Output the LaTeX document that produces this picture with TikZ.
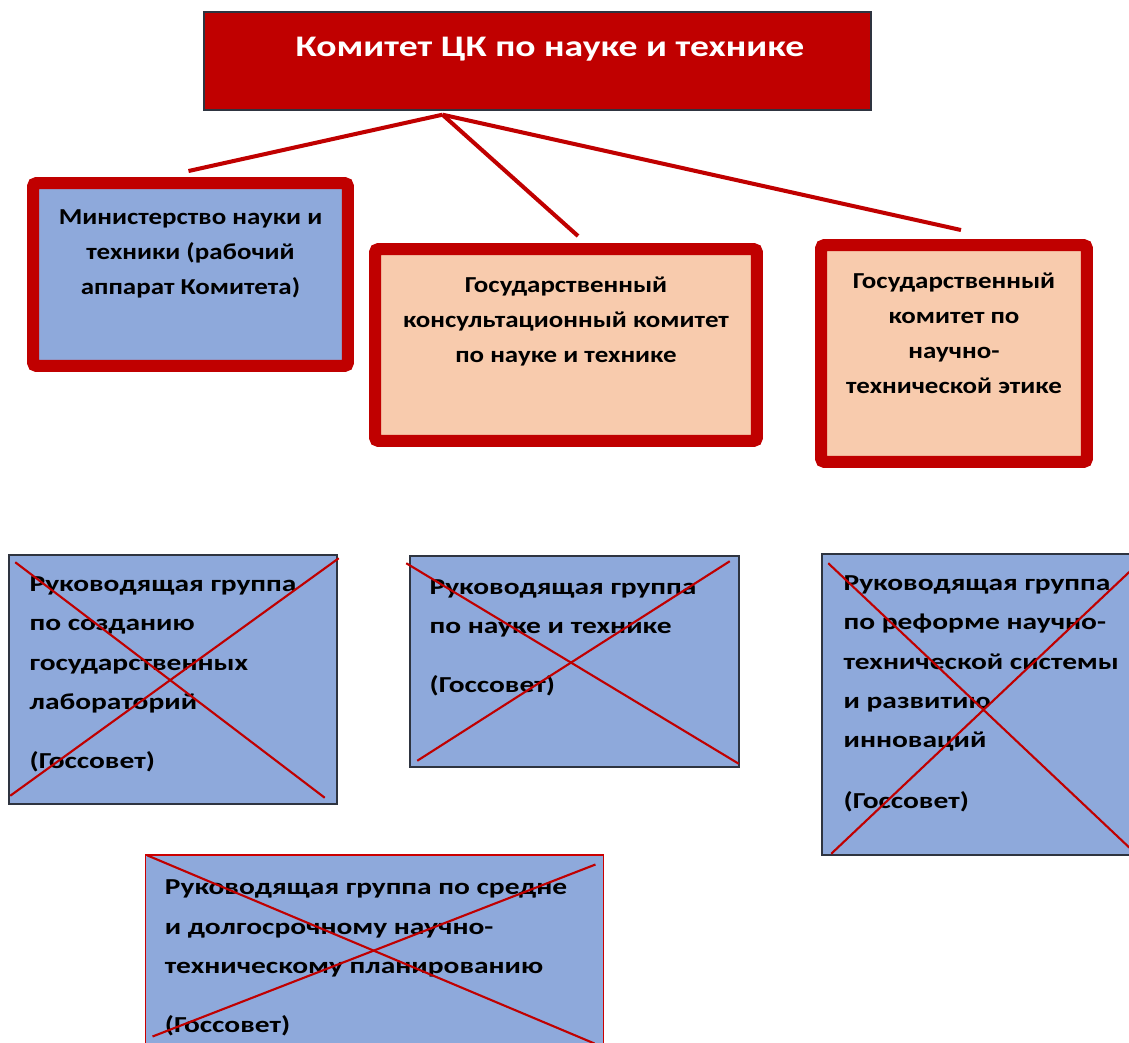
\documentclass[tikz,border=0pt]{standalone}
\usepackage{fontspec}
\setmainfont{Carlito}
\newfontfamily\titlefont[FakeStretch=1.26]{Carlito}
\newfontfamily\upfont[FakeStretch=1.18]{Carlito}
\newfontfamily\lowfont[FakeStretch=1.29]{Carlito}
\usepackage{tikz}
\usetikzlibrary{positioning, calc}

\definecolor{ckred}{HTML}{C00000}
\definecolor{boxblue}{HTML}{8EA9DB}
\definecolor{boxpeach}{HTML}{F8CBAD}
\definecolor{edgedark}{HTML}{2E3440}

\begin{document}
\begin{tikzpicture}[
			x=0.02cm, y=-0.02cm,
			topbox/.style={draw=edgedark, line width=0.8pt, fill=ckred, minimum width=13.34cm, minimum height=1.96cm},
			organ/.style={draw=ckred, line width=0.24cm, rounded corners=2pt},
			group/.style={draw=edgedark, line width=0.9pt, fill=boxblue},
			uptext/.style={inner sep=0pt, align=center, font=\upfont\bfseries\fontsize{13pt}{19.9pt}\selectfont},
			lowtext/.style={inner sep=0pt, align=left, font=\lowfont\bfseries\fontsize{13pt}{22.4pt}\selectfont},
			link/.style={draw=ckred, line width=2.3pt},
			cross/.style={draw=ckred, line width=1.2pt}
			]
			\useasboundingbox (0,0) rectangle (1129,1043);
			\clip (0,0) rectangle (1129,1043);
			
			% --- Komitet CK ---
			\node[topbox] (ck) at (537.5,61) {};
			\node[font=\titlefont\bfseries\fontsize{17pt}{20pt}\selectfont, text=white] (cktitle) at (550,49) {Комитет ЦК по науке и технике};
			\coordinate (hub) at ($(ck.south)+(-95,4)$); % tochka vetvleniya
			
			% --- Organy pri Komitete ---
			\node[organ, fill=boxblue, minimum width=6.3cm, minimum height=3.66cm] (ministry) at (190.5,274.5) {};
			\node[organ, fill=boxpeach, minimum width=7.64cm, minimum height=3.84cm] (consult) at (566,345) {};
			\node[organ, fill=boxpeach, minimum width=5.32cm, minimum height=4.34cm] (ethics) at (954,353.5) {};
			
			\node[uptext, below=0.64cm of ministry.north] (ministrytext) {Министерство науки и\\ техники (рабочий\\ аппарат Комитета)};
			\node[uptext, below=0.67cm of consult.north] (consulttext) {Государственный\\ консультационный комитет\\ по науке и технике};
			\node[uptext, below=0.68cm of ethics.north] (ethicstext) {Государственный\\ комитет по\\ научно-\\ технической этике};
			
			% --- Linii ot Komiteta ---
			\draw[link] (hub) -- ($(ministry.north)+(-2,-6)$);
			\draw[link] (hub) -- ($(consult.north)+(12,-7)$);
			\draw[link] (hub) -- ($(ethics.north)+(7,-9)$);
			
			% --- Rukovodyashchie gruppy (Gossovet) ---
			\node[group, minimum width=6.56cm, minimum height=4.98cm] (grplabs) at (173,679.5) {};
			\node[group, minimum width=6.58cm, minimum height=4.22cm] (grpscience) at (574.5,661.5) {};
			\node[group, minimum width=6.36cm, minimum height=6.02cm] (grpreform) at (981,704.5) {};
			\node[group, draw=red!80!black, line width=0.6pt, minimum width=9.18cm, minimum height=3.82cm] (grpplan) at (374.5,950.5) {};
			
			\node[lowtext, below right=0.44cm and 0.42cm of grplabs.north west] (grplabstext) {Руководящая группа\\ по созданию\\ государственных\\ лабораторий\\[11pt] (Госсовет)};
			\node[lowtext, below right=0.48cm and 0.4cm of grpscience.north west] (grpsciencetext) {Руководящая группа\\ по науке и технике\\[11pt] (Госсовет)};
			\node[lowtext, below right=0.44cm and 0.44cm of grpreform.north west] (grpreformtext) {Руководящая группа\\ по реформе научно-\\ технической системы\\ и развитию\\ инноваций\\[12pt] (Госсовет)};
			\node[lowtext, below right=0.5cm and 0.4cm of grpplan.north west] (grpplantext) {Руководящая группа по средне\\ и долгосрочному научно-\\ техническому планированию\\[11pt] (Госсовет)};
			
			% --- Perecherkivaniya ---
			\draw[cross] ($(grplabs.north west)+(7,8)$) -- ($(grplabs.south east)+(-13,-7)$);
			\draw[cross] ($(grplabs.north east)+(1,4)$) -- ($(grplabs.south west)+(2,-9)$);
			\draw[cross] ($(grpscience.north west)+(-3,8)$) -- ($(grpscience.south east)+(-1,-4)$);
			\draw[cross] ($(grpscience.north east)+(-10,6)$) -- ($(grpscience.south west)+(8,-7)$);
			\draw[cross] ($(grpreform.north west)+(7,10)$) -- ($(grpreform.south east)+(-7,-4)$);
			\draw[cross] ($(grpreform.north east)+(2,6)$) -- ($(grpreform.south west)+(10,-2)$);
			\draw[cross] ($(grpplan.north west)+(3,1)$) -- ($(grpplan.south east)+(-10,-3)$);
			\draw[cross] ($(grpplan.north east)+(-9,10)$) -- ($(grpplan.south west)+(8,-10)$);
			
		\end{tikzpicture}
\end{document}
